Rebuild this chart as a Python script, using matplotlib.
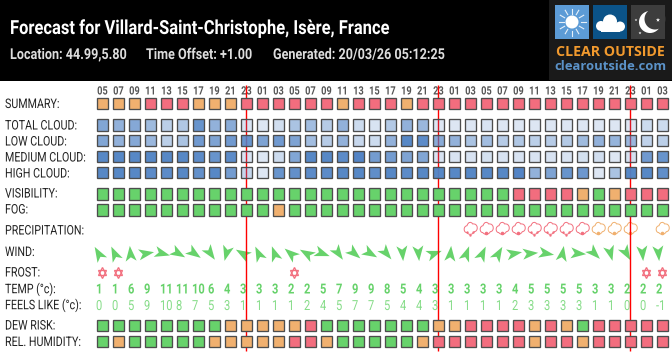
import matplotlib
matplotlib.use("Agg")
import matplotlib.pyplot as plt
import numpy as np
from matplotlib.markers import MarkerStyle
from matplotlib.path import Path
from matplotlib.patches import Rectangle, Circle
from matplotlib.patheffects import AbstractPathEffect
from matplotlib.transforms import Affine2D

hours = ["05","07","09","11","13","15","17","19","21","23","01","03","05","07","09","11","13","15","17","19","21","23",
         "01","03","05","07","09","11","13","15","17","19","21","23","01","03"]
day_breaks = [9, 21, 33]

G, O, R = 0, 1, 2
summary = [O,O,O,R,R,R,O,O,O,R,R,R,R,R,R,O,R,R,R,O,R,R,R,R,R,R,R,R,R,R,R,R,R,R,R,R]
total_cloud = [70,60,68,52,35,42,85,60,65,18,15,22,45,50,38,60,25,18,40,60,55,15,15,15,18,15,15,15,15,15,15,15,15,15,25,25]
low_cloud = [70,60,68,55,35,45,80,72,80,85,72,80,72,50,38,60,28,25,60,95,92,65,60,45,50,38,42,35,38,40,52,60,58,55,32,35]
medium_cloud = [95,95,95,95,95,95,92,85,92,18,15,25,70,95,95,92,98,78,78,72,70,18,18,18,20,18,18,18,18,18,20,22,15,20,80,85]
high_cloud = [95,95,95,92,92,95,88,95,78,30,15,85,88,92,92,95,95,90,95,92,95,95,95,95,95,95,98,60,72,85,82,15,45,95,95,90]
visibility = [G]*26 + [R,R,R,R,O,G,O,R,R,R]
fog = [G]*11 + [O] + [G]*24
precip_cols = [23,24,25,26,27,28,29,30,31,32,33,35]
precip_sev = [R,R,R,R,R,R,R,R,O,O,O,O]
precip_drops = [3,1,1,1,3,3,3,1,1,1,1,1]
wind_heading = [330,335,355,80,105,120,125,145,195,300,335,340,310,300,110,145,130,120,140,175,175,70,5,20,
                25,30,80,85,100,10,95,135,165,150,175,175]
frost_cols = [0,1,12,34,35]
temp = [1,1,6,9,11,11,10,6,4,3,3,3,2,2,5,7,9,9,8,5,4,3,3,3,3,3,4,5,5,5,5,3,3,2,2,2]
feels = [0,0,5,9,10,8,7,5,3,1,1,1,1,2,4,5,7,7,5,4,4,3,1,1,1,1,2,3,3,3,3,1,1,0,0,-1]
dew_risk = [G]*8 + [O]*5 + [R,G] + [G]*6 + [O,O,R,R,R,R,O,R,O,G,R,R,R,R,R]
humidity = [G,O,G,G,G,G,G,O,O,O,O,O,R,R,O,G,G,G,G,G,O,R,R,R,R,R,R,O,R,R,O,R,R,R,R,R]

FONT = ["Roboto", "DejaVu Sans"]
GREEN, ORANGE, RED = "#67d26b", "#f0b06f", "#f26d7e"
CAT = {G: GREEN, O: ORANGE, R: RED}
EDGE = "#4d4d4d"
TXT = "#222222"


class Condense(AbstractPathEffect):
    """Narrow a text run horizontally around its anchor (the reference uses a condensed face)."""
    def __init__(self, sx, x0):
        super().__init__()
        self.sx, self.x0 = sx, x0

    def draw_path(self, renderer, gc, tpath, affine, rgbFace=None):
        squeeze = Affine2D().translate(-self.x0, 0).scale(self.sx, 1).translate(self.x0, 0)
        renderer.draw_path(gc, tpath, affine + squeeze, rgbFace)


fig = plt.figure(figsize=(6.72, 3.52), dpi=100, facecolor="white")
ax = fig.add_axes([0, 0, 1, 1])
ax.set_xlim(0, 672)
ax.set_ylim(352, 0)
ax.axis("off")


def ctext(x, y, s, sx, **kw):
    kw.setdefault("va", "center")
    kw.setdefault("ha", "left")
    return ax.text(x, y, s, family=FONT, path_effects=[Condense(sx, x)], **kw)


n = len(hours)
cx = 102.4 + 16 * np.arange(n)
lx = 96 + 16 * np.arange(n)
ac = 98 + 16 * np.arange(n)

# header
ax.add_patch(Rectangle((0, 0), 672, 81, fc="black", ec="none", zorder=0))
ax.add_patch(Rectangle((549, 0), 123, 80, fc="#1a1a1a", ec="none", zorder=0.1))
ctext(10, 29, "Forecast for Villard-Saint-Christophe, Isère, France", 0.85, color="white",
      weight="bold", fontsize=14)
for x, s in [(10, "Location: 44.99,5.80"), (146, "Time Offset: +1.00"), (273, "Generated: 20/03/26 05:12:25")]:
    ctext(x, 55, s, 0.84, color="#dddddd", weight="bold", fontsize=10.8)

# logo
ax.add_patch(Rectangle((555, 5), 34, 34, fc="#5c9bd6", ec="none", zorder=1))
ax.add_patch(Rectangle((593, 5), 34, 34, fc="#0b5388", ec="none", zorder=1))
ax.add_patch(Rectangle((631, 5), 34, 34, fc="#3d3d3d", ec="none", zorder=1))
ax.add_patch(Circle((572, 22), 6.5, fc="white", ec="none", zorder=2))
for a in np.deg2rad(np.arange(0, 360, 30)):
    ax.plot([572 + 8.5*np.cos(a), 572 + 13.5*np.cos(a)], [22 + 8.5*np.sin(a), 22 + 13.5*np.sin(a)],
            color="white", lw=0.8, alpha=0.85, zorder=2)
for (x, y, r) in [(601, 26, 5), (610, 21.5, 7), (620, 26.5, 5)]:
    ax.add_patch(Circle((x, y), r, fc="white", ec="none", zorder=2))
ax.add_patch(Rectangle((601, 25), 19, 6.5, fc="white", ec="none", zorder=2))
ax.add_patch(Circle((650, 22), 11, fc="white", ec="none", zorder=2))
ax.add_patch(Circle((655, 19), 10.5, fc="#3d3d3d", ec="none", zorder=2))
ax.scatter([636, 658, 640], [20, 20, 33], s=[4, 10, 5], c="white", marker="*", lw=0, zorder=3)
ax.text(610, 52, "CLEAR OUTSIDE", color="#f29a2e", family=["Open Sans", "DejaVu Sans"], weight="bold",
        fontsize=10.2, va="center", ha="center")
ax.text(610, 67, "clearoutside.com", color="#5b92c8", family=["Open Sans", "DejaVu Sans"], weight="bold",
        fontsize=9.4, va="center", ha="center")

# hours
for x, h in zip(cx, hours):
    ctext(x, 91, h, 0.80, color="#555555", weight="bold", fontsize=8.3, ha="center", zorder=1)

# labels
labels = [("SUMMARY:", 104.5), ("TOTAL CLOUD:", 126), ("LOW CLOUD:", 142), ("MEDIUM CLOUD:", 158),
          ("HIGH CLOUD:", 174), ("VISIBILITY:", 194), ("FOG:", 210), ("PRECIPITATION:", 231),
          ("WIND:", 252.5), ("FROST:", 273), ("TEMP (°c):", 289.5), ("FEELS LIKE (°c):", 305.5),
          ("DEW RISK:", 326), ("REL. HUMIDITY:", 342.5)]
for s, y in labels:
    ctext(5, y, s, 0.81, color=TXT, fontsize=9.5)

# day lines
ax.vlines([cx[i] for i in day_breaks], 85, 351, color="#ff0000", lw=1.0, zorder=2)


# cells
def cat_row(vals, yc):
    ax.bar(cx, 11.8, bottom=yc - 5.9, width=11.8, color=[CAT[v] for v in vals], edgecolor=EDGE, linewidth=0.95, zorder=3)


def cloud_row(vals, yc):
    cols = [(0.31, 0.51, 0.77, 0.05 + 0.95 * v / 100) for v in vals]
    ax.bar(cx, 11.8, bottom=yc - 5.9, width=11.8, color=cols, edgecolor=EDGE, linewidth=0.95, zorder=3)


cat_row(summary, 103.6)
cloud_row(total_cloud, 124.6)
cloud_row(low_cloud, 140.4)
cloud_row(medium_cloud, 156.4)
cloud_row(high_cloud, 172.4)
cat_row(visibility, 193.6)
cat_row(fog, 209.6)
cat_row(dew_risk, 325.5)
cat_row(humidity, 341.5)

# precipitation icons
cloud_path = Path(
    [(-0.5, -0.6), (-1.05, -0.6), (-1.05, 0.35), (-0.5, 0.4), (-0.35, 1.0), (0.15, 1.0), (0.3, 0.65),
     (1.15, 0.8), (1.15, -0.45), (0.55, -0.45), (0.3, -0.95), (-0.3, -0.95), (-0.5, -0.6)],
    [Path.MOVETO] + [Path.CURVE4] * 12)
for c, sev, d in zip(precip_cols, precip_sev, precip_drops):
    col = "#f2707f" if sev == R else "#f0b06f"
    ax.plot(cx[c], 227.5, marker=MarkerStyle(cloud_path), ms=11.5, mfc="none", mec=col, mew=0.7, ls="none", zorder=1)
    if d == 1:
        ax.plot(cx[c], 233.2, marker="o", ms=2.6, mfc=col, mec="none", ls="none", zorder=1)
    else:
        ax.plot(cx[c] + np.array([-3, 3, 0]), [231.8, 231.8, 235], marker="o", ms=1.7, mfc=col, mec="none", ls="none", zorder=1)

# wind
arrow_path = Path([(0, 1), (0.72, -1), (0, -0.5), (-0.72, -1), (0, 1)],
                  [Path.MOVETO, Path.LINETO, Path.LINETO, Path.LINETO, Path.CLOSEPOLY])
for x, h in zip(ac, wind_heading):
    ax.plot(x, 253, marker=MarkerStyle(arrow_path, transform=Affine2D().rotate_deg(-h)), ms=11.0,
            mfc=GREEN, mec="none", ls="none", zorder=1)

# frost
fy = np.full(len(frost_cols), 272.7)
ax.plot(cx[frost_cols], fy - 1.4, marker="^", ms=6.0, mfc="none", mec="#f2707f", mew=0.95, ls="none", zorder=1)
ax.plot(cx[frost_cols], fy + 1.4, marker="v", ms=6.0, mfc="none", mec="#f2707f", mew=0.95, ls="none", zorder=1)

# temperatures
for x, t in zip(lx, temp):
    ctext(x, 289.5, str(t), 0.80, color="#67d26b", weight="bold", fontsize=10, zorder=1)
for x, t in zip(lx, feels):
    ctext(x, 306, str(t), 0.80, color="#86dc88", fontsize=10, zorder=1)

fig.savefig("out.png", dpi=100)
